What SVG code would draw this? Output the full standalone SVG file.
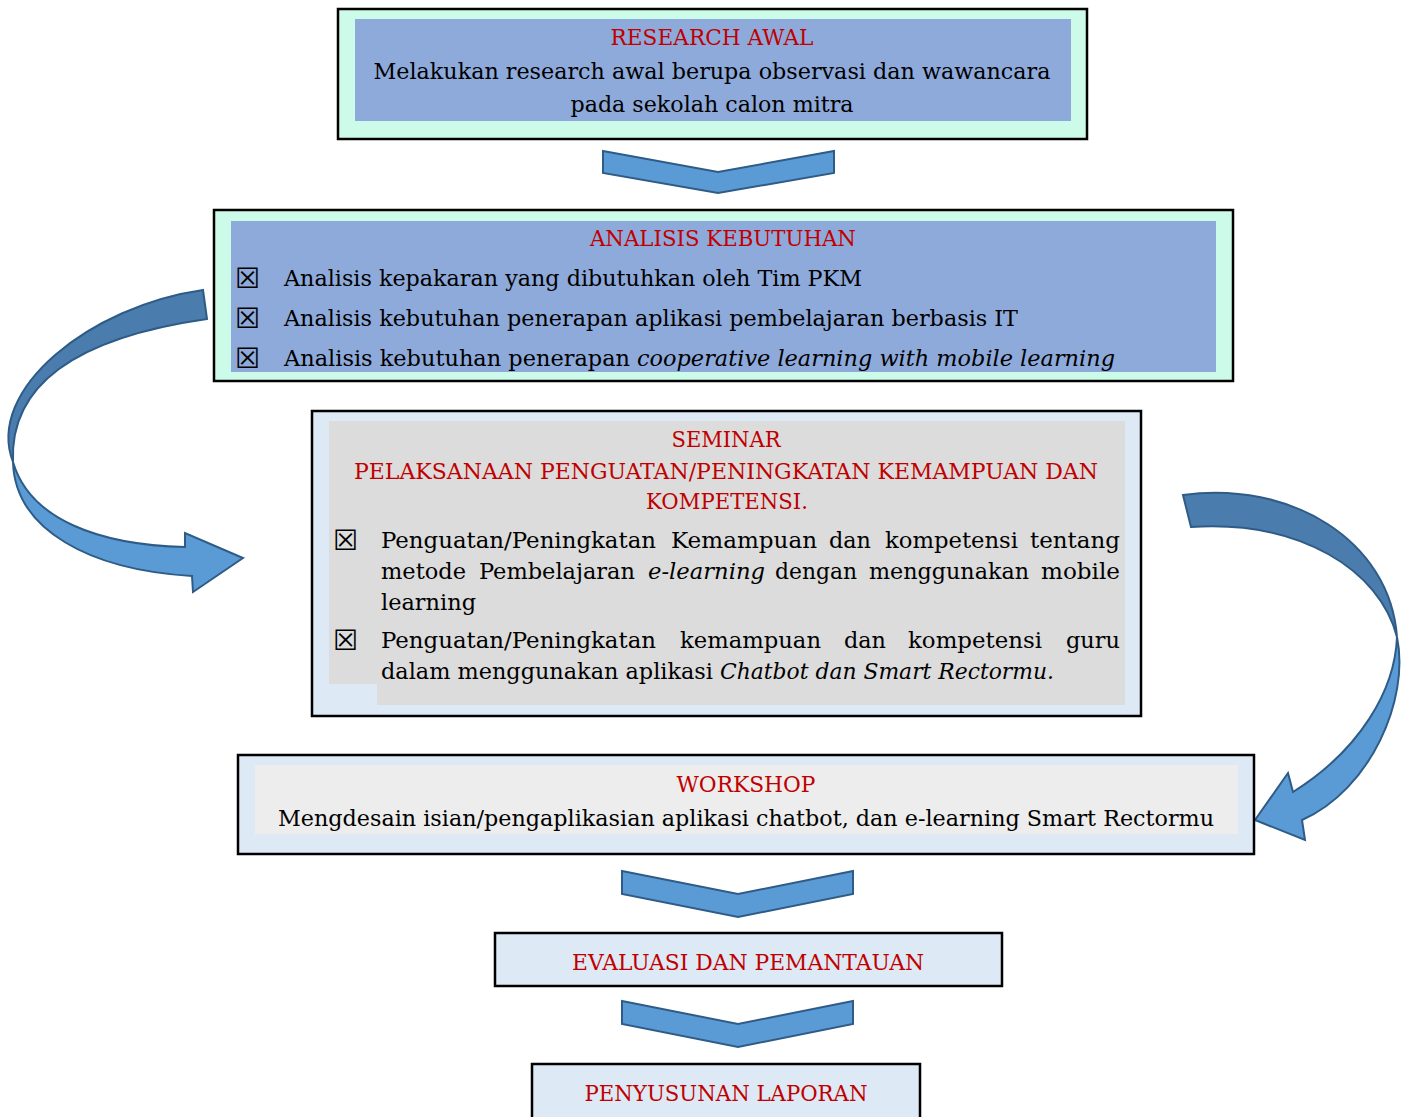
<svg xmlns="http://www.w3.org/2000/svg" width="1405" height="1117" viewBox="0 0 1405 1117">
<style>
.box{stroke:#000;stroke-width:2.5}
.mint{fill:#ccfbea}
.lb{fill:#dde9f5}
.t{font-family:"DejaVu Serif","Liberation Serif",serif;font-size:23px;fill:#000}
.r{fill:#c00000}
.i{font-style:italic}
.m{text-anchor:middle}
.cb{font-family:"DejaVu Sans",sans-serif;font-size:28px;fill:#000}
.chev{fill:#5b9bd5;stroke:#2e5c87;stroke-width:2;stroke-linejoin:miter}
.dark{fill:#4a7cad;stroke:#2e5c87;stroke-width:2}
.light{fill:#5b9bd5;stroke:#2e5c87;stroke-width:2}
</style>
<rect width="1405" height="1117" fill="#fff"/>

<g id="connectors">
  <polygon class="chev" points="603,151 718,172 834,151 834,173 718,193 603,173"/>
  <polygon class="chev" points="622,871 738,894 853,871 853,894 738,917 622,894"/>
  <polygon class="chev" points="622,1001 738,1024 853,1001 853,1024 738,1047 622,1024"/>
  <g id="curve-left">
    <path class="dark" d="M203,290 C90,306 -15,390 13,462 C10,395 60,340 207,319 Z"/>
    <path class="light" d="M13,462 C30,520 100,545 185,547 L185,533 L243,558 L193,592 L192,576 C90,570 15,530 13,462 Z"/>
  </g>
  <g id="curve-right">
    <path class="dark" d="M1183,495 C1290,480 1390,540 1397,637 C1380,570 1300,520 1191,527 Z"/>
    <path class="light" d="M1397,637 C1410,700 1370,790 1302,820 L1305,840 L1255,820 L1288,773 L1293,792 C1360,750 1395,690 1397,637 Z"/>
  </g>
</g>

<g id="research-awal">
  <rect class="box mint" x="338" y="9" width="749" height="130"/>
  <rect x="355" y="19" width="716" height="102" fill="#8eaadb"/>
  <text class="t r m" x="712" y="45" textLength="203" lengthAdjust="spacingAndGlyphs">RESEARCH AWAL</text>
  <text class="t m" x="712" y="79" textLength="677" lengthAdjust="spacingAndGlyphs">Melakukan research awal berupa observasi dan wawancara</text>
  <text class="t m" x="712" y="112" textLength="283" lengthAdjust="spacingAndGlyphs">pada sekolah calon mitra</text>
</g>

<g id="analisis-kebutuhan">
  <rect class="box mint" x="214" y="210" width="1019" height="171"/>
  <rect x="231" y="221" width="985" height="151" fill="#8eaadb"/>
  <text class="t r m" x="723" y="246" textLength="266" lengthAdjust="spacingAndGlyphs">ANALISIS KEBUTUHAN</text>
  <text class="cb" x="235" y="288">☒</text>
  <text class="t" x="284" y="286" textLength="578" lengthAdjust="spacingAndGlyphs">Analisis kepakaran yang dibutuhkan oleh Tim PKM</text>
  <text class="cb" x="235" y="328">☒</text>
  <text class="t" x="284" y="326" textLength="734" lengthAdjust="spacingAndGlyphs">Analisis kebutuhan penerapan aplikasi pembelajaran berbasis IT</text>
  <text class="cb" x="235" y="368">☒</text>
  <text class="t" x="284" y="366" textLength="346" lengthAdjust="spacingAndGlyphs">Analisis kebutuhan penerapan</text>
  <text class="t i" x="637" y="366" textLength="478" lengthAdjust="spacingAndGlyphs">cooperative learning with mobile learning</text>
</g>

<g id="seminar">
  <rect class="box lb" x="312" y="411" width="829" height="305"/>
  <path d="M329,421 H1125 V705 H377 V684 H329 Z" fill="#dcdcdc"/>
  <text class="t r m" x="726" y="447" textLength="109" lengthAdjust="spacingAndGlyphs">SEMINAR</text>
  <text class="t r m" x="726" y="479" textLength="744" lengthAdjust="spacingAndGlyphs">PELAKSANAAN PENGUATAN/PENINGKATAN KEMAMPUAN DAN</text>
  <text class="t r m" x="727" y="509" textLength="162" lengthAdjust="spacingAndGlyphs">KOMPETENSI.</text>
  <text class="cb" x="333" y="550">☒</text>
  <text class="t" x="381" y="548" textLength="275" lengthAdjust="spacingAndGlyphs">Penguatan/Peningkatan</text>
  <text class="t" x="671" y="548" textLength="146" lengthAdjust="spacingAndGlyphs">Kemampuan</text>
  <text class="t" x="829" y="548" textLength="42" lengthAdjust="spacingAndGlyphs">dan</text>
  <text class="t" x="885" y="548" textLength="133" lengthAdjust="spacingAndGlyphs">kompetensi</text>
  <text class="t" x="1030" y="548" textLength="90" lengthAdjust="spacingAndGlyphs">tentang</text>
  <text class="t" x="381" y="579" textLength="85" lengthAdjust="spacingAndGlyphs">metode</text>
  <text class="t" x="479" y="579" textLength="156" lengthAdjust="spacingAndGlyphs">Pembelajaran</text>
  <text class="t i" x="648" y="579" textLength="117" lengthAdjust="spacingAndGlyphs">e-learning</text>
  <text class="t" x="775" y="579" textLength="82" lengthAdjust="spacingAndGlyphs">dengan</text>
  <text class="t" x="869" y="579" textLength="160" lengthAdjust="spacingAndGlyphs">menggunakan</text>
  <text class="t" x="1041" y="579" textLength="79" lengthAdjust="spacingAndGlyphs">mobile</text>
  <text class="t" x="381" y="610" textLength="95" lengthAdjust="spacingAndGlyphs">learning</text>
  <text class="cb" x="333" y="650">☒</text>
  <text class="t" x="381" y="648" textLength="275" lengthAdjust="spacingAndGlyphs">Penguatan/Peningkatan</text>
  <text class="t" x="680" y="648" textLength="141" lengthAdjust="spacingAndGlyphs">kemampuan</text>
  <text class="t" x="844" y="648" textLength="42" lengthAdjust="spacingAndGlyphs">dan</text>
  <text class="t" x="908" y="648" textLength="134" lengthAdjust="spacingAndGlyphs">kompetensi</text>
  <text class="t" x="1066" y="648" textLength="54" lengthAdjust="spacingAndGlyphs">guru</text>
  <text class="t" x="381" y="679" textLength="332" lengthAdjust="spacingAndGlyphs">dalam menggunakan aplikasi</text>
  <text class="t i" x="720" y="679" textLength="334" lengthAdjust="spacingAndGlyphs">Chatbot dan Smart Rectormu.</text>
</g>

<g id="workshop">
  <rect class="box lb" x="238" y="755" width="1016" height="99"/>
  <rect x="255" y="765" width="983" height="69" fill="#ededed"/>
  <text class="t r m" x="746" y="792" textLength="139" lengthAdjust="spacingAndGlyphs">WORKSHOP</text>
  <text class="t m" x="746" y="826" textLength="936" lengthAdjust="spacingAndGlyphs">Mengdesain isian/pengaplikasian aplikasi chatbot, dan e-learning Smart Rectormu</text>
</g>

<g id="evaluasi">
  <rect class="box lb" x="495" y="933" width="507" height="53"/>
  <text class="t r m" x="748" y="970" textLength="352" lengthAdjust="spacingAndGlyphs">EVALUASI DAN PEMANTAUAN</text>
</g>

<g id="penyusunan">
  <rect class="box lb" x="532" y="1064" width="388" height="60"/>
  <text class="t r m" x="726" y="1101" textLength="283" lengthAdjust="spacingAndGlyphs">PENYUSUNAN LAPORAN</text>
</g>
</svg>
